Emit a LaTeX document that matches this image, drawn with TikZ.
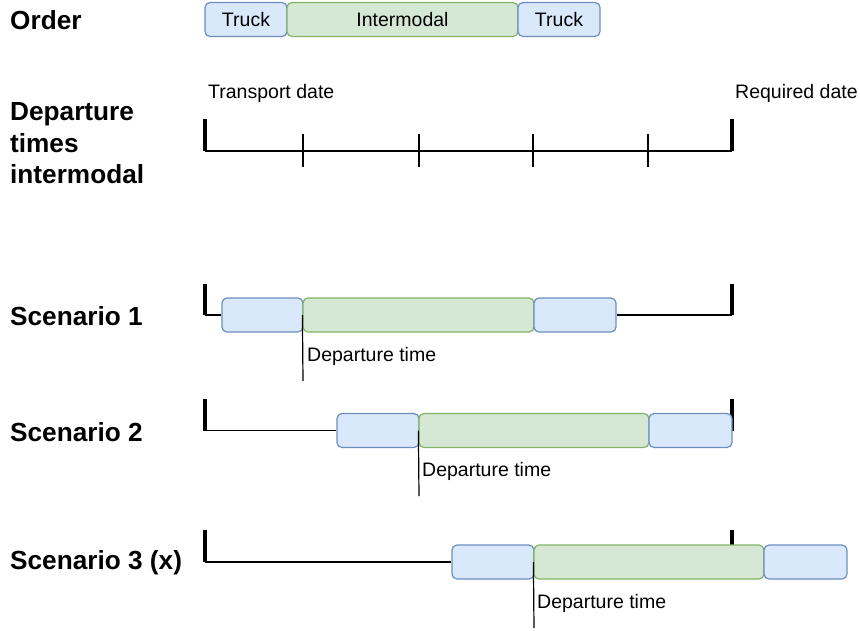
\documentclass[tikz,border=0pt]{standalone}
\usepackage{fontspec}
\setmainfont{Liberation Sans}
\usetikzlibrary{backgrounds}
\definecolor{tfill}{HTML}{DAE8FC}
\definecolor{tdraw}{HTML}{6C8EBF}
\definecolor{ifill}{HTML}{D5E8D4}
\definecolor{idraw}{HTML}{82B366}
\begin{document}
\begin{tikzpicture}[x=1pt,y=-1pt,
  truck/.style={draw=tdraw,fill=tfill,rounded corners=5pt,line width=1.2pt,minimum height=34pt,inner sep=0pt,font=\fontsize{19.5}{22}\selectfont},
  inter/.style={draw=idraw,fill=ifill,rounded corners=5pt,line width=1.2pt,minimum height=34pt,inner sep=0pt,font=\fontsize{19.5}{22}\selectfont},
  lbl/.style={font=\fontsize{26.2}{31.5}\selectfont\bfseries,anchor=west,align=left,inner sep=0pt},
  txt/.style={font=\fontsize{19.5}{22}\selectfont,anchor=west,inner sep=0pt},
  bracket/.style={line width=4pt},
  baseln/.style={line width=1.7pt},
  tick/.style={line width=1.2pt},
  deprt/.style={line width=1.2pt}]
\useasboundingbox (0,0) rectangle (860,630);

% left labels
\node[lbl] (lorder) at (10,20) {Order};
\node[lbl] (ldep) at (10,143.5) {Departure\\times\\intermodal};
\node[lbl] (ls1) at (10,316) {Scenario 1};
\node[lbl] (ls2) at (10,432) {Scenario 2};
\node[lbl] (ls3) at (10,563) {Scenario 3 (x)};

% order
\node[truck,minimum width=82pt] (o1) at (246,19.5) {Truck};
\node[inter,minimum width=231pt] (o2) at (402.5,19.5) {Intermodal};
\node[truck,minimum width=82pt] (o3) at (559,19.5) {Truck};

% timeline
\node[txt] (tdate) at (208,93) {Transport date};
\node[txt] (rdate) at (735,93) {Required date};
\coordinate (tlt) at (205,119);
\coordinate (tlb) at (205,151);
\coordinate (trb) at (732,151);
\coordinate (trt) at (732,119);
\draw[baseln] (tlb) -- (trb);
\draw[bracket] (tlt) -- (tlb);
\draw[bracket] (trt) -- (trb);
\foreach \x [count=\i] in {303,419,533,648}{
  \coordinate (k\i a) at (\x,134);
  \coordinate (k\i b) at (\x,167);
  \draw[tick] (k\i a) -- (k\i b);
}

% scenario 1
\node[truck,minimum width=81pt] (s1a) at (262.5,315) {};
\node[inter,minimum width=231pt] (s1b) at (418.5,315) {};
\node[truck,minimum width=82pt] (s1c) at (575,315) {};
\coordinate (s1lt) at (205,284);
\coordinate (s1lb) at (205,315);
\coordinate (s1rt) at (732,284);
\coordinate (s1rb) at (732,315);
\coordinate (s1d) at (303,381);
\node[txt] (s1t) at (307,356) {Departure time};
\begin{scope}[on background layer]
\draw[baseln] (s1lb) -- (s1a.west);
\draw[baseln] (s1c.east) -- (s1rb);
\draw[bracket] (s1lt) -- (s1lb);
\draw[bracket] (s1rt) -- (s1rb);
\end{scope}
\draw[deprt] (s1b.west) -- (s1d);

% scenario 2
\node[truck,minimum width=82pt] (s2a) at (378,430.5) {};
\node[inter,minimum width=230pt] (s2b) at (534,430.5) {};
\node[truck,minimum width=83pt] (s2c) at (690.5,430.5) {};
\coordinate (s2lt) at (205,399);
\coordinate (s2lb) at (205,430.5);
\coordinate (s2rt) at (732,399);
\coordinate (s2rb) at (732,430.5);
\coordinate (s2d) at (419,496);
\node[txt] (s2t) at (422,471) {Departure time};
\begin{scope}[on background layer]
\draw[baseln] (s2lb) -- (s2a.west);
\draw[bracket] (s2lt) -- (s2lb);
\draw[bracket] (s2rt) -- (s2rb);
\end{scope}
\draw[deprt] (s2b.west) -- (s2d);

% scenario 3
\node[truck,minimum width=82pt] (s3a) at (493,562) {};
\node[inter,minimum width=230pt] (s3b) at (649,562) {};
\node[truck,minimum width=83pt] (s3c) at (805.5,562) {};
\coordinate (s3lt) at (205,530);
\coordinate (s3lb) at (205,562);
\coordinate (s3rt) at (732,530);
\coordinate (s3rb) at (732,562);
\coordinate (s3d) at (534,628);
\node[txt] (s3t) at (537,603) {Departure time};
\begin{scope}[on background layer]
\draw[baseln] (s3lb) -- (s3a.west);
\draw[bracket] (s3lt) -- (s3lb);
\draw[bracket] (s3rt) -- (s3rb);
\end{scope}
\draw[deprt] (s3b.west) -- (s3d);
\end{tikzpicture}
\end{document}
